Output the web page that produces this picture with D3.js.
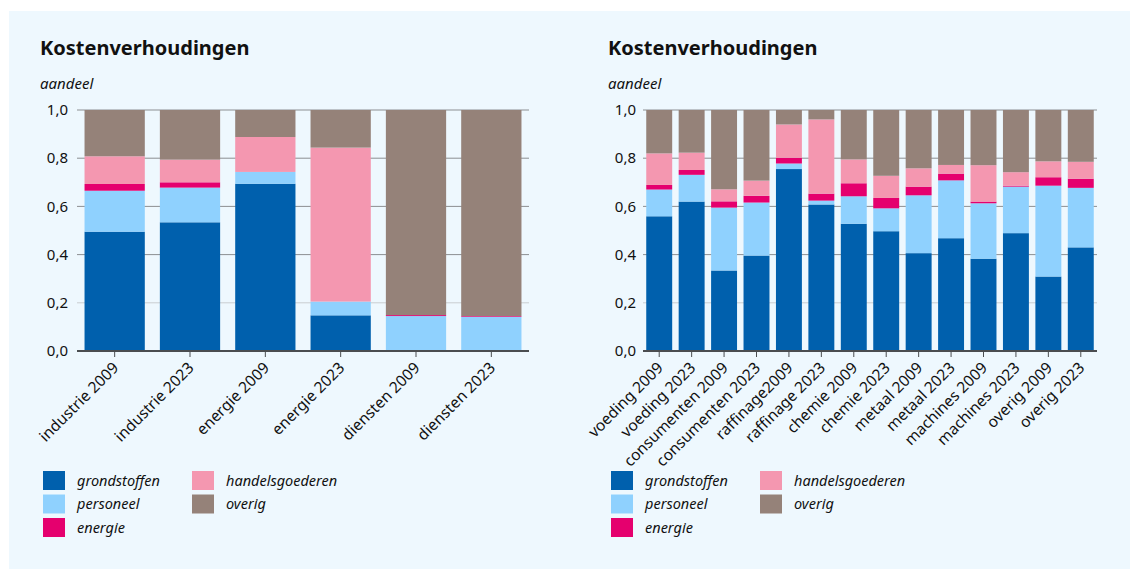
<!DOCTYPE html>
<html>
<head>
<meta charset="utf-8">
<script src="https://cdn.jsdelivr.net/npm/d3@7"></script>
<style>
  body { margin: 0; background: #fff; }
  svg { display: block; font-family: "Noto Sans", sans-serif; }
</style>
</head>
<body>
<script>
// cost components, bottom to top
let keys = ["grondstoffen", "personeel", "energie", "handelsgoederen", "overig"];
let colours = ["#0060ad", "#8fd1fe", "#e5006e", "#f497b0", "#958279"];
let yTicks = [0, 0.2, 0.4, 0.6, 0.8, 1.0];

// left chart: sectors
let sectors = ["industrie 2009", "industrie 2023", "energie 2009", "energie 2023", "diensten 2009", "diensten 2023"];
let sectorGrondstoffen = [0.495, 0.534, 0.694, 0.148, 0.000, 0.000];
let sectorPersoneel    = [0.170, 0.144, 0.049, 0.057, 0.145, 0.142];
let sectorEnergie      = [0.028, 0.022, 0.000, 0.000, 0.004, 0.003];
let sectorHandel       = [0.115, 0.094, 0.145, 0.639, 0.000, 0.000];
let sectorOverig       = [0.192, 0.206, 0.112, 0.156, 0.851, 0.855];

// right chart: industry branches
let branches = ["voeding 2009", "voeding 2023", "consumenten 2009", "consumenten 2023", "raffinage2009", "raffinage 2023",
    "chemie 2009", "chemie 2023", "metaal 2009", "metaal 2023", "machines 2009", "machines 2023", "overig 2009", "overig 2023"];
let branchGrondstoffen = [0.559, 0.620, 0.334, 0.396, 0.755, 0.608, 0.528, 0.497, 0.406, 0.468, 0.383, 0.489, 0.309, 0.430];
let branchPersoneel    = [0.111, 0.111, 0.261, 0.220, 0.023, 0.016, 0.114, 0.095, 0.240, 0.240, 0.230, 0.193, 0.377, 0.247];
let branchEnergie      = [0.019, 0.020, 0.026, 0.028, 0.024, 0.029, 0.054, 0.043, 0.036, 0.028, 0.007, 0.004, 0.035, 0.038];
let branchHandel       = [0.131, 0.072, 0.050, 0.063, 0.138, 0.308, 0.099, 0.092, 0.076, 0.036, 0.151, 0.056, 0.066, 0.070];
let branchOverig       = [0.180, 0.177, 0.329, 0.293, 0.060, 0.039, 0.205, 0.273, 0.242, 0.228, 0.229, 0.258, 0.213, 0.215];

let width = 1130,
    height = 569;

let svg = d3.select("body").append("svg")
    .attr("width", width)
    .attr("height", height);

// light blue panel
svg.append("rect")
    .attr("x", 9).attr("y", 11)
    .attr("width", width - 9).attr("height", height - 11)
    .attr("fill", "#eef8fe");

let colour = d3.scaleOrdinal().domain(keys).range(colours);

function makeRows(cats, cols) {
    return cats.map((c, i) => ({
        cat: c,
        grondstoffen: cols[0][i],
        personeel: cols[1][i],
        energie: cols[2][i],
        handelsgoederen: cols[3][i],
        overig: cols[4][i]
    }));
}

function drawChart(cfg) {
    let g = svg.append("g");
    let rows = makeRows(cfg.cats, cfg.cols);
    let series = d3.stack().keys(keys)(rows);

    let x = d3.scaleBand(cfg.cats, [cfg.x0, cfg.x1])
        .paddingInner(0.2)
        .paddingOuter(0.1);
    let y = d3.scaleLinear([0, 1], [351, 110]);

    // title + unit
    g.append("text")
        .attr("x", cfg.left).attr("y", 55)
        .attr("font-size", 20).attr("font-weight", "bold")
        .attr("fill", "#111")
        .text("Kostenverhoudingen");
    g.append("text")
        .attr("x", cfg.left).attr("y", 89)
        .attr("font-size", 15).attr("font-style", "italic")
        .attr("fill", "#111")
        .text("aandeel");

    // gridlines
    g.selectAll(".grid").data(yTicks.filter(t => t > 0)).enter()
        .append("line")
        .attr("x1", cfg.x0).attr("x2", cfg.x1)
        .attr("y1", d => y(d)).attr("y2", d => y(d))
        .attr("stroke", d => d === 0.2 ? "#c9cdd0" : "#8c8f92")
        .attr("stroke-width", 1);

    // y labels
    g.selectAll(".ylab").data(yTicks).enter()
        .append("text")
        .attr("x", cfg.x0 - cfg.labelGap)
        .attr("y", d => y(d))
        .attr("dy", "0.35em")
        .attr("text-anchor", "end")
        .attr("font-size", 15)
        .attr("fill", "#111")
        .text(d => d3.format(".1f")(d).replace(".", ","));

    // bars
    g.selectAll(".layer").data(series).enter()
        .append("g")
        .attr("fill", d => colour(d.key))
        .selectAll("rect").data(d => d).enter()
        .append("rect")
        .attr("x", d => x(d.data.cat))
        .attr("y", d => y(d[1]))
        .attr("width", x.bandwidth())
        .attr("height", d => Math.max(0, y(d[0]) - y(d[1])));

    // baseline + ticks
    g.append("line")
        .attr("x1", cfg.x0).attr("x2", cfg.x1)
        .attr("y1", y(0)).attr("y2", y(0))
        .attr("stroke", "#4a4d50").attr("stroke-width", 2);
    g.selectAll(".xtick").data(cfg.cats).enter()
        .append("line")
        .attr("x1", d => x(d) + x.bandwidth() / 2)
        .attr("x2", d => x(d) + x.bandwidth() / 2)
        .attr("y1", y(0)).attr("y2", y(0) + 6)
        .attr("stroke", "#4a4d50").attr("stroke-width", 1);

    // rotated category labels
    g.selectAll(".xlab").data(cfg.cats).enter()
        .append("text")
        .attr("transform", d => `translate(${x(d) + x.bandwidth() / 2 + 1},${y(0) + 14}) rotate(-45)`)
        .attr("text-anchor", "end")
        .attr("dy", "0.35em")
        .attr("font-size", 15.5)
        .attr("fill", "#111")
        .text(d => d);

    // legend
    let legendPos = [[0, 0], [0, 1], [0, 2], [1, 0], [1, 1]];
    let items = g.selectAll(".legend").data(keys).enter()
        .append("g")
        .attr("transform", (d, i) => `translate(${cfg.left + 3 + legendPos[i][0] * 149},${471 + legendPos[i][1] * 23.5})`);
    items.append("rect")
        .attr("width", 22).attr("height", 19)
        .attr("fill", d => colour(d));
    items.append("text")
        .attr("x", 34).attr("y", 14.5)
        .attr("font-size", 14.5).attr("font-style", "italic")
        .attr("fill", "#111")
        .text(d => d);
}

drawChart({
    cats: sectors,
    cols: [sectorGrondstoffen, sectorPersoneel, sectorEnergie, sectorHandel, sectorOverig],
    left: 40, x0: 77, x1: 529, labelGap: 9
});

drawChart({
    cats: branches,
    cols: [branchGrondstoffen, branchPersoneel, branchEnergie, branchHandel, branchOverig],
    left: 608, x0: 643, x1: 1097, labelGap: 7
});
</script>
</body>
</html>
